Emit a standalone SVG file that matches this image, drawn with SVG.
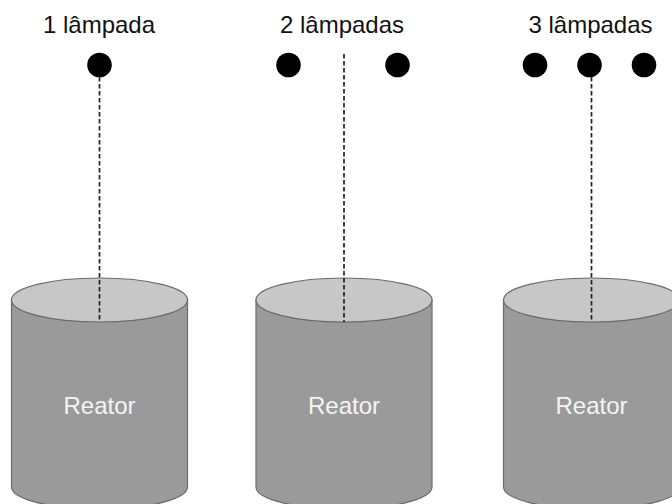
<svg xmlns="http://www.w3.org/2000/svg" width="672" height="504" viewBox="0 0 672 504">
  <style>
    .title { font-family: "Liberation Sans", Arial, sans-serif; font-size: 24px; fill: #111; text-anchor: middle; }
    .label { font-family: "Liberation Sans", Arial, sans-serif; font-size: 24px; fill: #f4f4f4; text-anchor: middle; }
    .side { fill: #9a9a9a; stroke: #6a6a6a; stroke-width: 1.2; }
    .top { fill: #c7c7c7; stroke: #6a6a6a; stroke-width: 1.2; }
    .lamp { fill: #000; }
    .beam { stroke: #222; stroke-width: 1.7; stroke-dasharray: 4.5 2.5; fill: none; }
  </style>
  <defs>
    <!-- cylinder centred on x=0: top ellipse at y=300, base ellipse at y=487 -->
    <g id="cyl">
      <path class="side" d="M -88 300 L -88 487 A 88 22 0 0 0 88 487 L 88 300 Z"/>
      <ellipse class="top" cx="0" cy="300" rx="88" ry="22"/>
    </g>
  </defs>

  <g id="reator-1">
    <use href="#cyl" x="99.5" y="0"/>
    <text class="label" x="99.5" y="414">Reator</text>
  </g>
  <g id="reator-2">
    <use href="#cyl" x="344" y="0"/>
    <text class="label" x="344" y="414">Reator</text>
  </g>
  <g id="reator-3">
    <use href="#cyl" x="591.5" y="0"/>
    <text class="label" x="591.5" y="414">Reator</text>
  </g>

  <g id="lampadas-1">
    <text class="title" x="99" y="33">1 lâmpada</text>
    <circle class="lamp" cx="99.5" cy="65" r="12.3"/>
  </g>
  <g id="lampadas-2">
    <text class="title" x="342" y="33">2 lâmpadas</text>
    <circle class="lamp" cx="288.5" cy="65" r="12.3"/>
    <circle class="lamp" cx="397.5" cy="65" r="12.3"/>
  </g>
  <g id="lampadas-3">
    <text class="title" x="590.5" y="33">3 lâmpadas</text>
    <circle class="lamp" cx="535" cy="65" r="12.3"/>
    <circle class="lamp" cx="589.5" cy="65" r="12.3"/>
    <circle class="lamp" cx="644" cy="65" r="12.3"/>
  </g>

  <g id="connectors">
    <line class="beam" x1="99.5" y1="77" x2="99.5" y2="322"/>
    <line class="beam" x1="344" y1="54" x2="344" y2="322"/>
    <line class="beam" x1="591.5" y1="77" x2="591.5" y2="322"/>
  </g>
</svg>
